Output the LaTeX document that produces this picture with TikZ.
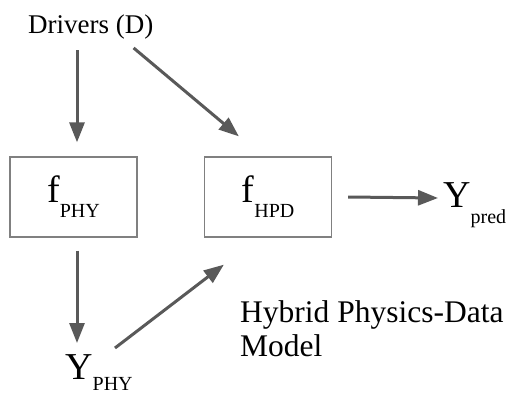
\documentclass[tikz,border=0pt]{standalone}
\usepackage{fontspec}
\setmainfont{Liberation Serif}
\usetikzlibrary{arrows.meta}
\newcommand{\lowsub}[2][15pt]{\raisebox{-#1}{\fontsize{20}{22}\selectfont #2}}
\tikzset{
    fbox/.style={draw=black!50,line width=1.3pt,minimum width=127pt,minimum height=80pt,inner sep=0pt,
        font=\fontsize{38}{42}\selectfont},
    arr/.style={draw=black!65,line width=3pt,-{Triangle[length=20pt,width=15pt]}},
    bigtxt/.style={inner sep=0pt,font=\fontsize{38}{42}\selectfont}
}
\begin{document}
\begin{tikzpicture}[x=1pt,y=1pt]
    \useasboundingbox (0,0) rectangle (506,392);
    \node[inner sep=0pt,anchor=base west,font=\fontsize{27}{30}\selectfont] (drv) at (28,358) {Drivers (D)};
    \node[fbox] (phy) at (73.5,195) {f\lowsub{PHY}};
    \node[fbox] (hpd) at (268,195) {f\lowsub{HPD}};
    \node[bigtxt,anchor=base west] (ypred) at (443,185) {Y\lowsub[16pt]{pred}};
    \node[bigtxt,anchor=base west] (yphy) at (65,13) {Y\lowsub[11pt]{PHY}};
    \node[inner sep=0pt,anchor=north west,align=left,font=\fontsize{31.5}{34}\selectfont] (hpdm) at (240,92)
        {Hybrid Physics-Data\\Model};
    \draw[arr] ([shift={(49pt,-16pt)}]drv.base west) -- ([shift={(3.5pt,14pt)}]phy.north);
    \draw[arr] ([shift={(-20pt,-8pt)}]drv.south east) -- ([shift={(35pt,20pt)}]hpd.north west);
    \draw[arr] ([shift={(3.5pt,-13pt)}]phy.south) -- ([shift={(12pt,36pt)}]yphy.base west);
    \draw[arr] ([shift={(50pt,31pt)}]yphy.base west) -- ([shift={(20pt,-27pt)}]hpd.south west);
    \draw[arr] ([xshift=16pt]hpd.east) -- ([shift={(-5pt,9pt)}]ypred.base west);
\end{tikzpicture}
\end{document}
